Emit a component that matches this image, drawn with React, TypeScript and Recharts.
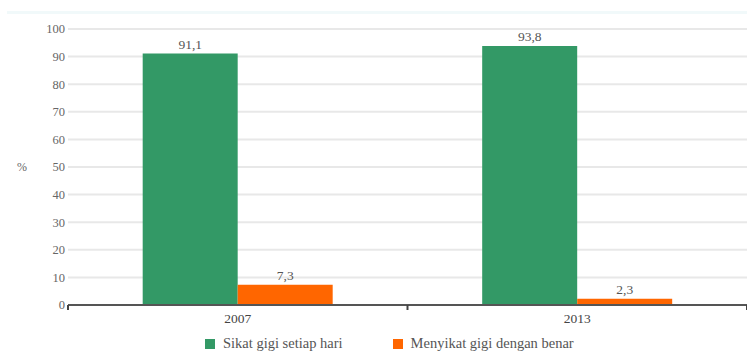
import { BarChart, Bar, XAxis, YAxis, CartesianGrid, Legend, LabelList } from 'recharts';

const years = ['2007', '2013'];
const sikatSetiapHari = [91.1, 93.8];
const menyikatBenar = [7.3, 2.3];
const yTicks = [0, 10, 20, 30, 40, 50, 60, 70, 80, 90, 100];

const seriesNames = {
  daily: 'Sikat gigi setiap hari',
  proper: 'Menyikat gigi dengan benar',
};

const GREEN = '#339966';
const ORANGE = '#ff6600';
const FONT = '"Liberation Serif", "DejaVu Serif", serif';

const data = years.map((year, i) => ({
  year,
  daily: sikatSetiapHari[i],
  proper: menyikatBenar[i],
}));

const commaDecimal = (v: unknown) => String(v).replace('.', ',');

// year label plus tick marks on the category band edges
function YearTick(props: any) {
  const { x, y, payload, index } = props;
  const half = payload?.offset ?? 0;
  return (
    <g>
      {index === 0 && <line x1={x - half} x2={x - half} y1={y - 8} y2={y - 3} stroke="#444" strokeWidth={2} />}
      <line x1={x + half} x2={x + half} y1={y - 8} y2={y - 3} stroke="#444" strokeWidth={2} />
      <text x={x} y={y} dy="0.71em" textAnchor="middle" fontFamily={FONT} fontSize={13.5} fill="#444">
        {payload.value}
      </text>
    </g>
  );
}

function PercentTick(props: any) {
  const { x, y, payload } = props;
  return (
    <text x={x} y={y} dy="0.355em" textAnchor="end" fontFamily={FONT} fontSize={12.5} fill="#666">
      {payload.value}
    </text>
  );
}

function ValueLabel(props: any) {
  const { x, y, width, value } = props;
  return (
    <text x={x + width / 2} y={y - 5} textAnchor="middle" fontFamily={FONT} fontSize={13.5} fill="#555">
      {commaDecimal(value)}
    </text>
  );
}

function LegendContent() {
  const items = [
    { key: 'daily', color: GREEN },
    { key: 'proper', color: ORANGE },
  ] as const;
  return (
    <div style={{ display: 'flex', alignItems: 'center', paddingLeft: 205, gap: 50 }}>
      {items.map((it) => (
        <div key={it.key} style={{ display: 'flex', alignItems: 'center', gap: 8 }}>
          <span style={{ display: 'inline-block', width: 10, height: 10, background: it.color }} />
          <span style={{ fontFamily: FONT, fontSize: 14.5, color: '#555' }}>{seriesNames[it.key]}</span>
        </div>
      ))}
    </div>
  );
}

export default function App() {
  return (
    <div style={{ position: 'fixed', left: 0, top: 0, width: 747, height: 363, background: '#fff', fontFamily: FONT }}>
      {/* faint band along the top edge */}
      <div style={{ position: 'absolute', left: 7, top: 11, width: 740, height: 3, background: '#f1f9fa' }} />
      <BarChart
        width={747}
        height={363}
        data={data}
        margin={{ top: 29, right: 0, bottom: 0, left: 0 }}
        barCategoryGap="22%"
        barGap={0}
        style={{ fontFamily: FONT }}
      >
        <CartesianGrid vertical={false} stroke="#e8e8e8" strokeWidth={2} />
        <XAxis
          dataKey="year"
          height={30}
          axisLine={{ stroke: '#555', strokeWidth: 2 }}
          tickLine={false}
          tickSize={6}
          tickMargin={2}
          tick={<YearTick />}
        />
        <YAxis
          width={68}
          domain={[0, 100]}
          ticks={yTicks}
          interval={0}
          axisLine={false}
          tickLine={false}
          tickSize={3}
          tickMargin={0}
          tick={<PercentTick />}
          label={{ value: '%', position: 'insideLeft', offset: 17, fontFamily: FONT, fontSize: 12, fill: '#666' }}
        />
        <Legend verticalAlign="bottom" height={28} content={<LegendContent />} />
        <Bar dataKey="daily" name={seriesNames.daily} fill={GREEN} isAnimationActive={false}>
          <LabelList dataKey="daily" content={<ValueLabel />} />
        </Bar>
        <Bar dataKey="proper" name={seriesNames.proper} fill={ORANGE} isAnimationActive={false}>
          <LabelList dataKey="proper" content={<ValueLabel />} />
        </Bar>
      </BarChart>
    </div>
  );
}
